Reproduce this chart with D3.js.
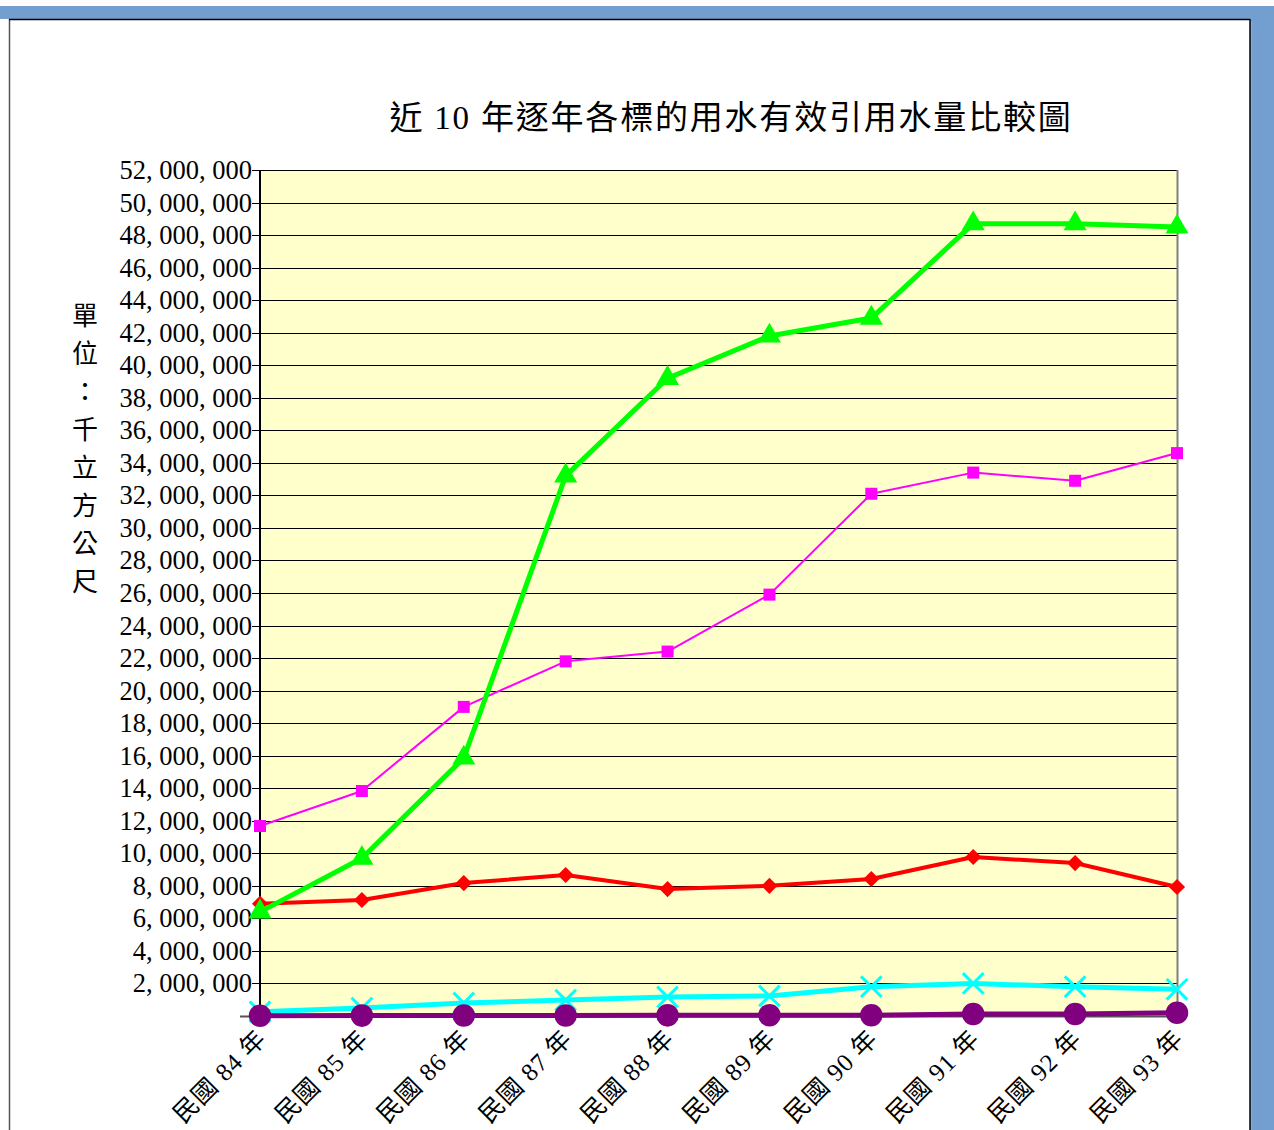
<!DOCTYPE html>
<html>
<head>
<meta charset="utf-8">
<script src="https://cdn.jsdelivr.net/npm/d3@7"></script>
<style>
  body { margin: 0; background: #fff; }
  svg text { font-family: "Liberation Serif", "Noto Sans CJK TC", serif; fill: #000; }
</style>
</head>
<body>
<div id="chart"></div>
<script>
// categories and series (千立方公尺)
const years = ['民國 84 年', '民國 85 年', '民國 86 年', '民國 87 年', '民國 88 年',
               '民國 89 年', '民國 90 年', '民國 91 年', '民國 92 年', '民國 93 年'];
const redSeries     = [6900000, 7130000, 8170000, 8670000, 7800000, 8000000, 8420000, 9770000, 9400000, 7930000];
const magentaSeries = [11680000, 13830000, 19000000, 21800000, 22400000, 25900000, 32100000, 33400000, 32900000, 34600000];
const greenSeries   = [6400000, 9700000, 15860000, 33200000, 39200000, 41800000, 42900000, 48700000, 48700000, 48500000];
const cyanSeries    = [260000, 490000, 800000, 980000, 1170000, 1230000, 1800000, 2000000, 1800000, 1640000];
const purpleSeries  = [20000, 25000, 30000, 35000, 40000, 45000, 50000, 120000, 120000, 200000];
const yTicks = d3.range(0, 52000001, 2000000);
const titleText = '近 10 年逐年各標的用水有效引用水量比較圖';
const yLabelChars = ['單', '位', '：', '千', '立', '方', '公', '尺'];

const W = 1274, H = 1130;
const plot = { left: 260, right: 1177, top: 170, bottom: 1016 };

var svg = d3.select('#chart').append('svg')
  .attr('width', W).attr('height', H);

// page frame
svg.append('rect').attr('x', 0).attr('y', 6).attr('width', W).attr('height', 13).attr('fill', '#739fd0');
svg.append('rect').attr('x', 1250).attr('y', 6).attr('width', 24).attr('height', H).attr('fill', '#739fd0');
svg.append('line').attr('x1', 9.5).attr('x2', 9.5).attr('y1', 19).attr('y2', H).attr('stroke', '#555').attr('stroke-width', 1.5);
svg.append('line').attr('x1', 9).attr('x2', 1250).attr('y1', 19.5).attr('y2', 19.5).attr('stroke', '#000').attr('stroke-width', 1.5);
svg.append('line').attr('x1', 1250).attr('x2', 1250).attr('y1', 19).attr('y2', H).attr('stroke', '#000').attr('stroke-width', 1.5);
svg.append('line').attr('x1', 1251.5).attr('x2', 1251.5).attr('y1', 21).attr('y2', H).attr('stroke', '#9aa').attr('stroke-width', 1);

var x = d3.scalePoint().domain(years).range([plot.left, plot.right]);
var y = d3.scaleLinear().domain([0, 52000000]).range([plot.bottom, plot.top]);

// plot area
svg.append('rect')
  .attr('x', plot.left).attr('y', plot.top)
  .attr('width', plot.right - plot.left).attr('height', plot.bottom - plot.top)
  .attr('fill', '#ffffcc');

// gridlines
svg.append('g').selectAll('line')
  .data(yTicks.filter(d => d > 0))
  .enter().append('line')
  .attr('x1', plot.left - 8).attr('x2', plot.right)
  .attr('y1', d => Math.round(y(d)) + 0.5).attr('y2', d => Math.round(y(d)) + 0.5)
  .attr('stroke', '#000').attr('stroke-width', 1);

// right border
svg.append('line').attr('x1', plot.right + 0.5).attr('x2', plot.right + 0.5)
  .attr('y1', plot.top).attr('y2', plot.bottom).attr('stroke', '#808080').attr('stroke-width', 2);

// y axis line
svg.append('line').attr('x1', plot.left).attr('x2', plot.left)
  .attr('y1', plot.top).attr('y2', plot.bottom).attr('stroke', '#000').attr('stroke-width', 2);
// zero line
svg.append('line').attr('x1', plot.left - 20).attr('x2', plot.right)
  .attr('y1', plot.bottom + 0.5).attr('y2', plot.bottom + 0.5).attr('stroke', '#555').attr('stroke-width', 2);

// y tick labels
var fmt = function (d) { return d3.format(',')(d).replace(/,/g, ', '); };
svg.append('g').selectAll('text')
  .data(yTicks.filter(d => d > 0))
  .enter().append('text')
  .attr('x', 252).attr('y', d => y(d) + 9)
  .attr('text-anchor', 'end')
  .style('font-size', '26.5px')
  .text(fmt);

// title
svg.append('text')
  .attr('x', 731).attr('y', 129)
  .attr('text-anchor', 'middle')
  .style('font-size', '33px')
  .style('letter-spacing', '1.8px')
  .text(titleText);

// y axis title, stacked vertically
svg.append('g').selectAll('text')
  .data(yLabelChars)
  .enter().append('text')
  .attr('x', 85).attr('y', (d, i) => 325 + i * 38)
  .attr('text-anchor', 'middle')
  .style('font-size', '26px')
  .text(d => d);

// x labels
svg.append('g').selectAll('text')
  .data(years)
  .enter().append('text')
  .attr('transform', d => 'translate(' + (x(d) + 8) + ',' + 1040 + ') rotate(-45)')
  .attr('text-anchor', 'end')
  .style('font-size', '25px')
  .style('letter-spacing', '1px')
  .text(d => d);

var line = d3.line().x((d, i) => x(years[i])).y(d => y(d));

var series = [
  { data: redSeries,     color: '#ff0000', width: 4, symbol: d3.symbolSquare,   size: 130, rot: 45 },
  { data: magentaSeries, color: '#ff00ff', width: 2, symbol: d3.symbolSquare,   size: 144, rot: 0 },
  { data: greenSeries,   color: '#00ff00', width: 5, symbol: d3.symbolTriangle, size: 230, rot: 0 },
  { data: cyanSeries,    color: '#00ffff', width: 5, symbol: d3.symbolTimes,    size: 280, rot: 0, stroke: true },
  { data: purpleSeries,  color: '#800080', width: 5, symbol: d3.symbolCircle,   size: 400, rot: 0 }
];

series.forEach(function (s) {
  var g = svg.append('g');
  g.append('path')
    .attr('d', line(s.data))
    .attr('fill', 'none')
    .attr('stroke', s.color)
    .attr('stroke-width', s.width)
    .attr('stroke-linejoin', 'round');
  g.selectAll('path.m')
    .data(s.data)
    .enter().append('path')
    .attr('class', 'm')
    .attr('transform', (d, i) => 'translate(' + x(years[i]) + ',' + y(d) + ') rotate(' + s.rot + ')')
    .attr('d', d3.symbol().type(s.symbol).size(s.size)())
    .attr('fill', s.stroke ? 'none' : s.color)
    .attr('stroke', s.stroke ? s.color : 'none')
    .attr('stroke-width', s.stroke ? 3 : 0);
});
</script>
</body>
</html>
